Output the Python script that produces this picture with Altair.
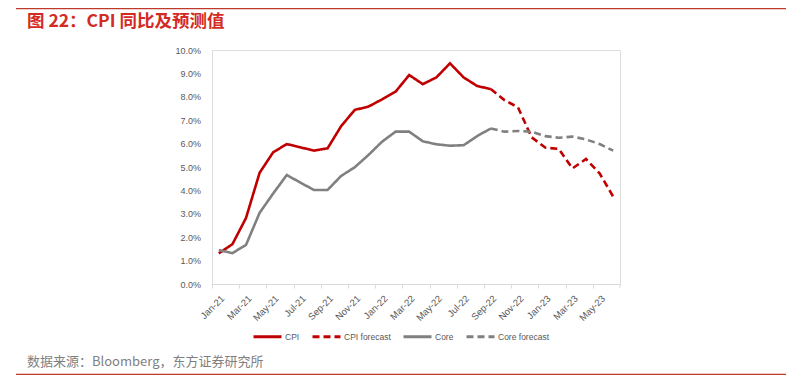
import altair as alt
import pandas as pd

months = ["Jan-21", "Feb-21", "Mar-21", "Apr-21", "May-21", "Jun-21", "Jul-21", "Aug-21",
          "Sep-21", "Oct-21", "Nov-21", "Dec-21", "Jan-22", "Feb-22", "Mar-22", "Apr-22",
          "May-22", "Jun-22", "Jul-22", "Aug-22", "Sep-22", "Oct-22", "Nov-22", "Dec-22",
          "Jan-23", "Feb-23", "Mar-23", "Apr-23", "May-23", "Jun-23"]

# actual values: Jan-21 .. Sep-22 ; forecasts: Sep-22 .. Jun-23 (percent)
cpi = [1.31, 1.70, 2.82, 4.75, 5.63, 5.98, 5.84, 5.70, 5.80, 6.75, 7.44,
       7.58, 7.89, 8.22, 8.93, 8.54, 8.83, 9.43, 8.83, 8.46, 8.33]
cpi_forecast = [8.33, 7.86, 7.55, 6.27, 5.83, 5.77, 4.94, 5.34, 4.73, 3.73]
core = [1.45, 1.32, 1.67, 3.04, 3.87, 4.66, 4.33, 4.02, 4.02, 4.62, 4.99,
        5.51, 6.08, 6.51, 6.51, 6.10, 5.97, 5.91, 5.93, 6.32, 6.65]
core_forecast = [6.65, 6.51, 6.54, 6.51, 6.32, 6.25, 6.30, 6.18, 5.98, 5.70]

series_names = ["CPI", "CPI forecast", "Core", "Core forecast"]
series_colors = ["#C00000", "#C00000", "#808080", "#808080"]
y_ticks = [0, 1, 2, 3, 4, 5, 6, 7, 8, 9, 10]

title_text = "图 22：CPI 同比及预测值"
source_text = "数据来源：Bloomberg，东方证券研究所"

n_actual = len(cpi)
start_fc = n_actual - 1
rows = []
for i, v in enumerate(cpi):
    rows.append({"month": months[i], "value": v, "series": "CPI", "idx": i})
for k, v in enumerate(cpi_forecast):
    rows.append({"month": months[start_fc + k], "value": v, "series": "CPI forecast", "idx": start_fc + k})
for i, v in enumerate(core):
    rows.append({"month": months[i], "value": v, "series": "Core", "idx": i})
for k, v in enumerate(core_forecast):
    rows.append({"month": months[start_fc + k], "value": v, "series": "Core forecast", "idx": start_fc + k})
df = pd.DataFrame(rows)

n = len(months)
label_months = months[::2]

W, H = 408, 234
PAD_L, PAD_T = 204, 42
step = W / n

x_scale = alt.Scale(type="point", domain=months, padding=0.5)
y_scale = alt.Scale(domain=[0, 10], nice=False)

legend = alt.Legend(orient="none", legendX=40, legendY=271,
                    direction="horizontal", title=None,
                    symbolType="stroke", symbolSize=784,
                    symbolStrokeWidth=3, labelFontSize=8.5,
                    labelColor="#595959", columnPadding=6,
                    labelOffset=2, padding=0)

lines = alt.Chart(df).mark_line(strokeWidth=2.6, strokeJoin="miter").encode(
    x=alt.X("month:O", scale=x_scale, sort=months,
            axis=alt.Axis(values=label_months,
                          labelAngle=-45, labelAlign="right", labelBaseline="top",
                          labelPadding=5, labelFontSize=9.5, labelColor="#595959",
                          ticks=True, tickSize=4, tickColor="#d9d9d9", tickWidth=1,
                          tickOffset=-step / 2, labelOffset=step / 2,
                          grid=False, domainColor="#d9d9d9",
                          domainWidth=1, title=None, labelOverlap=False)),
    y=alt.Y("value:Q", scale=y_scale,
            axis=alt.Axis(values=y_ticks, labelExpr="format(datum.value, '.1f') + '%'",
                          labelFontSize=9, labelColor="#595959", labelPadding=11.5,
                          domain=False, ticks=False, grid=False, title=None)),
    color=alt.Color("series:N",
                    scale=alt.Scale(domain=series_names, range=series_colors),
                    legend=legend),
    strokeDash=alt.StrokeDash("series:N",
                              scale=alt.Scale(domain=series_names,
                                              range=[[1, 0], [7, 4], [1, 0], [7, 4]]),
                              legend=legend),
    order=alt.Order("idx:Q"),
)

end_tick = alt.Chart(alt.Data(values=[{"a": 1}])).mark_rule(
    color="#d9d9d9", strokeWidth=1
).encode(x=alt.value(W), y=alt.value(H), y2=alt.value(H + 4))

title = alt.Chart(alt.Data(values=[{"t": title_text}])).mark_text(
    align="left", baseline="middle", fontSize=17.5, fontWeight="bold",
    color="#D42A23", font="Noto Sans CJK SC"
).encode(text="t:N", x=alt.value(27 - 8 - PAD_L), y=alt.value(22 - 8 - PAD_T))

source = alt.Chart(alt.Data(values=[{"t": source_text}])).mark_text(
    align="left", baseline="middle", fontSize=13, color="#7F7F7F",
    font="Noto Sans CJK SC"
).encode(text="t:N", x=alt.value(27 - 8 - PAD_L), y=alt.value(362 - 8 - PAD_T))

top_rule = alt.Chart(alt.Data(values=[{"a": 1}])).mark_rule(
    color="#BE3A2D", strokeWidth=1.3
).encode(x=alt.value(16 - 8 - PAD_L), x2=alt.value(786 - 8 - PAD_L),
         y=alt.value(8.7 - 8 - PAD_T))

bottom_rule = alt.Chart(alt.Data(values=[{"a": 1}])).mark_rule(
    color="#BE3A2D", strokeWidth=1.3
).encode(x=alt.value(16 - 8 - PAD_L), x2=alt.value(786 - 8 - PAD_L),
         y=alt.value(374.3 - 8 - PAD_T))

chart = alt.layer(lines, end_tick, title, source, top_rule, bottom_rule).properties(
    width=W, height=H,
    autosize=alt.AutoSizeParams(type="none"),
    padding={"left": PAD_L, "top": PAD_T, "right": 793 - PAD_L - W, "bottom": 368 - PAD_T - H},
).configure_view(stroke=None).configure(font="Liberation Sans")

chart.save("out.html", embed_options={"renderer": "svg", "actions": False})
